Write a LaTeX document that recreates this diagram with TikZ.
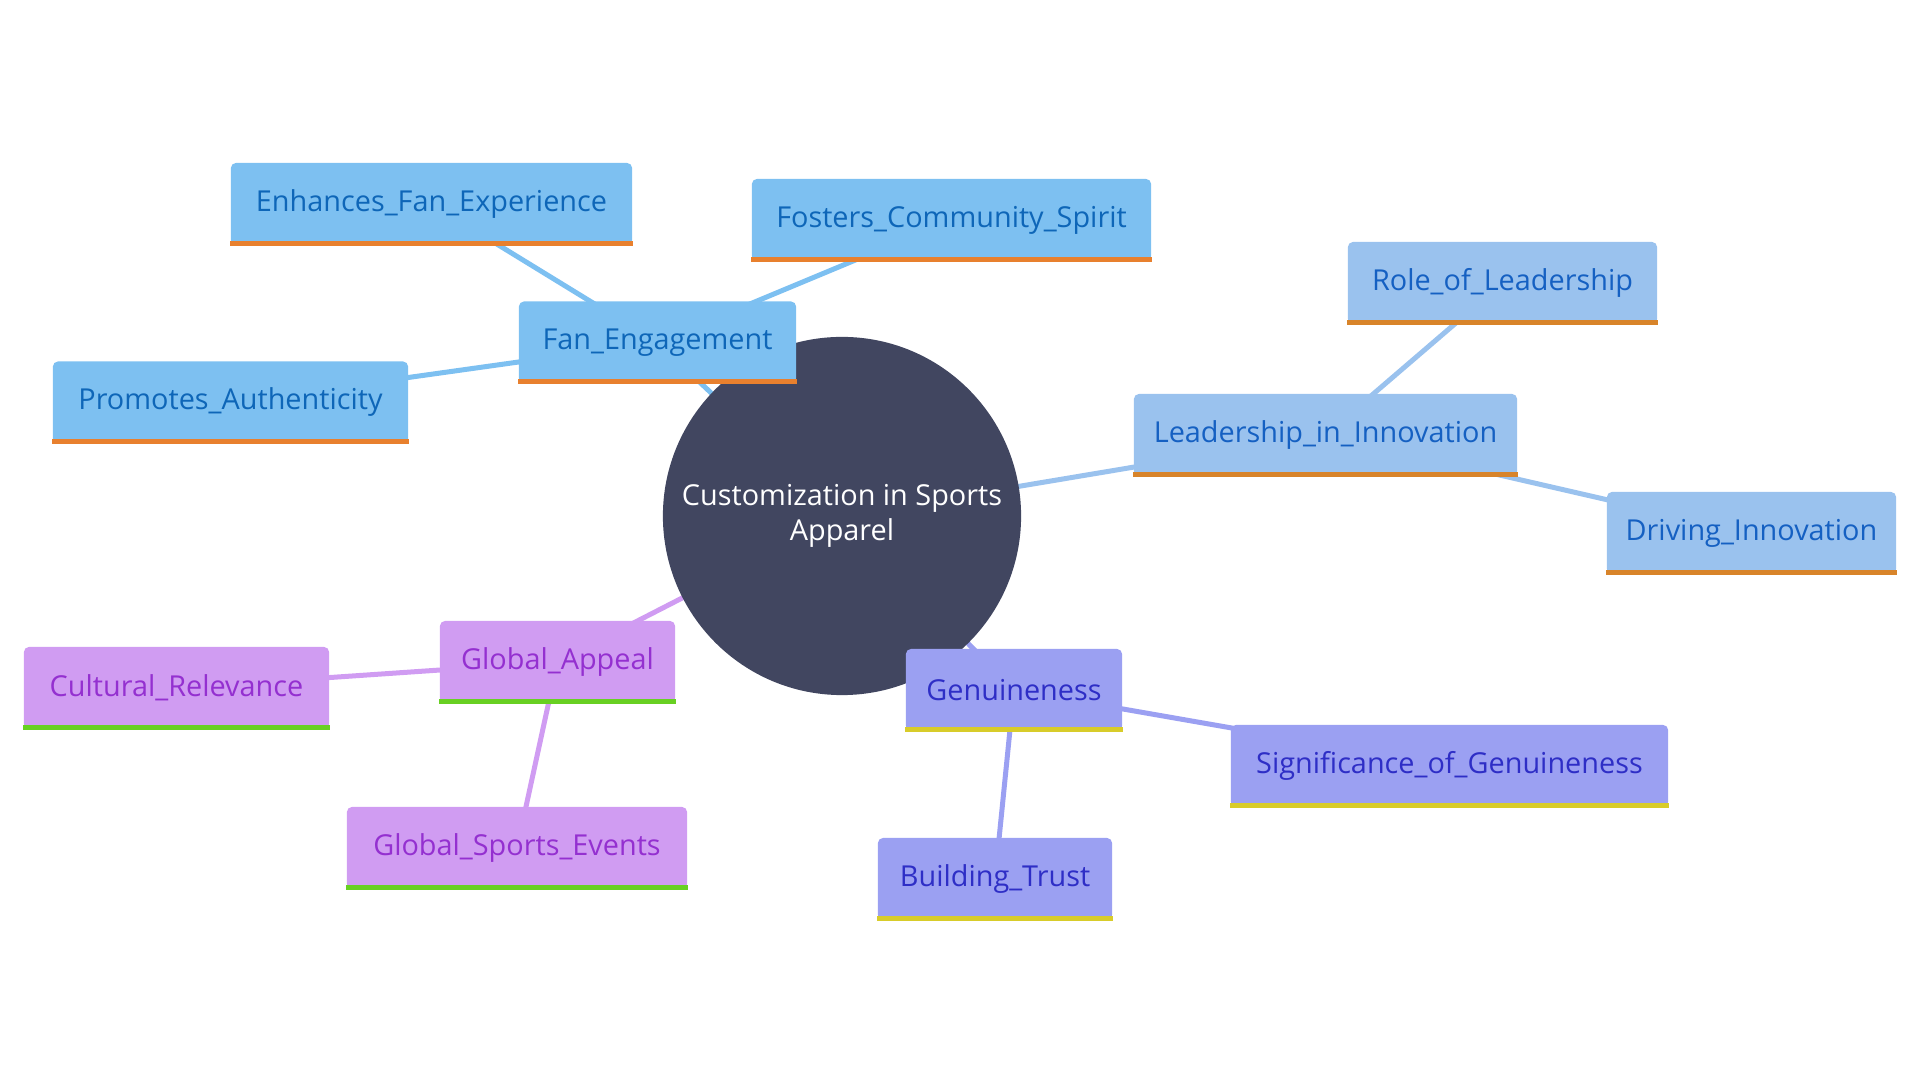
\documentclass[tikz,border=0pt]{standalone}
\usepackage{fontspec}
\setmainfont{Open Sans}
\usetikzlibrary{backgrounds}
\definecolor{color_hub}{HTML}{414660}
\definecolor{color_fanfill}{HTML}{7DC0F1}
\definecolor{color_fantext}{HTML}{0E66B8}
\definecolor{color_fanbar}{HTML}{E8802E}
\definecolor{color_leadfill}{HTML}{9AC2EE}
\definecolor{color_leadtext}{HTML}{1560C2}
\definecolor{color_leadbar}{HTML}{D8842A}
\definecolor{color_genfill}{HTML}{9BA0F2}
\definecolor{color_gentext}{HTML}{2E2EC6}
\definecolor{color_genbar}{HTML}{D8CC2A}
\definecolor{color_globfill}{HTML}{D09CF2}
\definecolor{color_globtext}{HTML}{9430D0}
\definecolor{color_globbar}{HTML}{68D022}

\tikzset{
	box/.style={rounded corners=0.05cm, minimum height=0.82cm, inner sep=0pt,
		font=\fontsize{8.2}{10}\selectfont},
	fanbox/.style={box, fill=color_fanfill, text=color_fantext},
	leadbox/.style={box, fill=color_leadfill, text=color_leadtext},
	genbox/.style={box, fill=color_genfill, text=color_gentext},
	globbox/.style={box, fill=color_globfill, text=color_globtext},
	link/.style={line width=0.05cm}
}

\begin{document}
\begin{tikzpicture}[x=0.01cm, y=-0.01cm]
		\useasboundingbox (0,0) rectangle (1920,1080);
		
		% Cercle central
		\node[circle, fill=color_hub, minimum size=3.58cm, inner sep=0pt, align=center, text=white,
			font=\fontsize{8.2}{10}\selectfont] (hub) at (842,516)
		{Customization in Sports\\Apparel};
		
		% Fan_Engagement
		\node[fanbox, minimum width=2.77cm] (fan) at (657.5,342.5) {Fan\_Engagement};
		\node[fanbox, minimum width=4.01cm] (enh) at (431.5,204) {Enhances\_Fan\_Experience};
		\node[fanbox, minimum width=3.99cm] (fos) at (951.5,220) {Fosters\_Community\_Spirit};
		\node[fanbox, minimum width=3.55cm] (pro) at (230.5,402.5) {Promotes\_Authenticity};
		
		% Leadership_in_Innovation
		\node[leadbox, minimum width=3.83cm] (lead) at (1325.5,435) {Leadership\_in\_Innovation};
		\node[leadbox, minimum width=3.09cm] (role) at (1502.5,283) {Role\_of\_Leadership};
		\node[leadbox, minimum width=2.89cm] (drive) at (1751.5,533) {Driving\_Innovation};
		
		% Genuineness
		\node[genbox, minimum width=2.16cm] (gen) at (1014,690) {Genuineness};
		\node[genbox, minimum width=4.37cm] (sig) at (1449.5,766) {Significance\_of\_Genuineness};
		\node[genbox, minimum width=2.34cm] (build) at (995,879) {Building\_Trust};
		
		% Global_Appeal
		\node[globbox, minimum width=2.35cm] (glob) at (557.5,662) {Global\_Appeal};
		\node[globbox, minimum width=3.05cm] (cult) at (176.5,688) {Cultural\_Relevance};
		\node[globbox, minimum width=3.40cm] (sports) at (517,848) {Global\_Sports\_Events};
		
		% Barres du bas
		\foreach \n/\c in {fan/fanbar, enh/fanbar, fos/fanbar, pro/fanbar,
			lead/leadbar, role/leadbar, drive/leadbar,
			gen/genbar, sig/genbar, build/genbar,
			glob/globbar, cult/globbar, sports/globbar}
		\fill[color_\c] (\n.south west) rectangle ([yshift=0.05cm]\n.south east);
		
		% Liens
		\begin{scope}[on background layer]
			\foreach \a/\b/\c in {hub/fan/fanfill, fan/enh/fanfill, fan/fos/fanfill, fan/pro/fanfill,
				hub/lead/leadfill, lead/role/leadfill, lead/drive/leadfill,
				hub/gen/genfill, gen/sig/genfill, gen/build/genfill,
				hub/glob/globfill, glob/cult/globfill, glob/sports/globfill}
			\draw[link, color_\c] (\a.center) -- (\b.center);
		\end{scope}
	\end{tikzpicture}
\end{document}
